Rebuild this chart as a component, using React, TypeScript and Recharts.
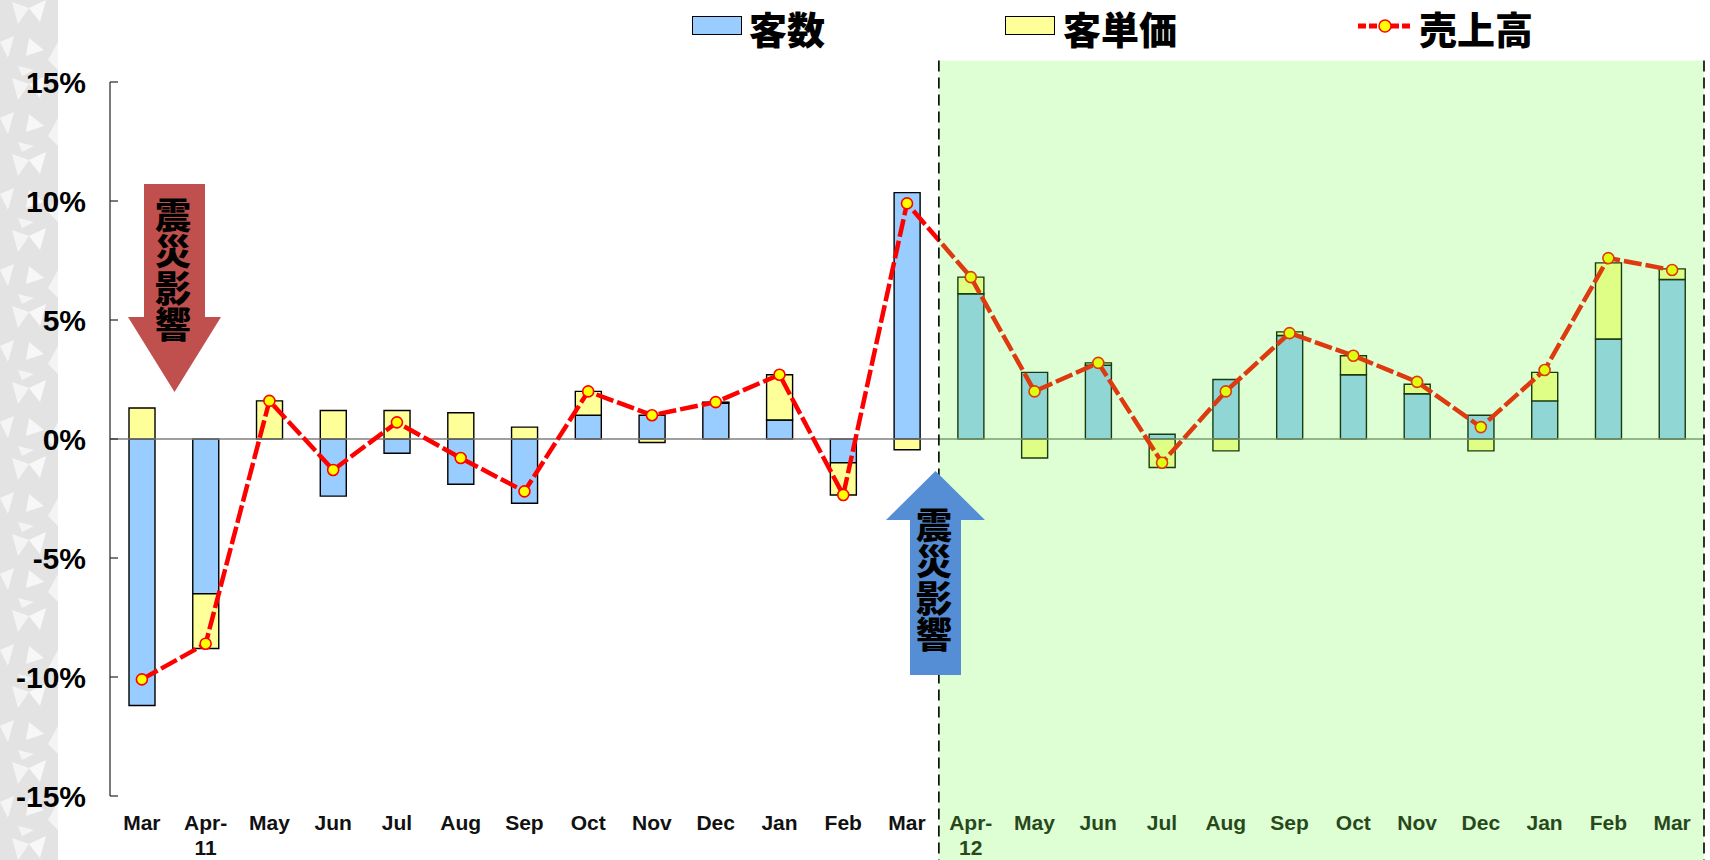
import React from 'react';
import {
  ComposedChart,
  Bar,
  Line,
  XAxis,
  YAxis,
  ReferenceLine,
  ReferenceArea,
} from 'recharts';

// Year-on-year change (%) by month, Mar 2011 .. Mar 2013
const periods = [
  '2011-03', '2011-04', '2011-05', '2011-06', '2011-07', '2011-08', '2011-09',
  '2011-10', '2011-11', '2011-12', '2012-01', '2012-02', '2012-03',
  '2012-04', '2012-05', '2012-06', '2012-07', '2012-08', '2012-09',
  '2012-10', '2012-11', '2012-12', '2013-01', '2013-02', '2013-03',
];
const monthLabels = [
  'Mar', 'Apr-\n11', 'May', 'Jun', 'Jul', 'Aug', 'Sep', 'Oct', 'Nov', 'Dec', 'Jan', 'Feb', 'Mar',
  'Apr-\n12', 'May', 'Jun', 'Jul', 'Aug', 'Sep', 'Oct', 'Nov', 'Dec', 'Jan', 'Feb', 'Mar',
];
// 客数
const customerCount = [
  -11.2, -6.5, 0, -2.4, -0.6, -1.9, -2.7, 1.0, 1.0, 1.5, 0.8, -1.0, 10.35,
  6.1, 2.8, 3.1, 0.2, 2.5, 4.35, 2.7, 1.9, 1.0, 1.6, 4.2, 6.7,
];
// 客単価
const spendPerCustomer = [
  1.3, -2.3, 1.6, 1.2, 1.2, 1.1, 0.5, 1.0, -0.15, 0.05, 1.9, -1.35, -0.45,
  0.7, -0.8, 0.1, -1.2, -0.5, 0.15, 0.8, 0.4, -0.5, 1.2, 3.2, 0.45,
];
// 売上高
const salesGrowth = [
  -10.1, -8.6, 1.6, -1.3, 0.7, -0.8, -2.2, 2.0, 1.0, 1.55, 2.7, -2.35, 9.9,
  6.8, 2.0, 3.2, -1.0, 2.0, 4.45, 3.5, 2.4, 0.5, 2.9, 7.6, 7.1,
];
const yTicks = [-15, -10, -5, 0, 5, 10, 15];

// shaded panel for the second fiscal year (data units, reaches past the plot)
const PANEL_TOP = 15.9;
const PANEL_BOTTOM = -17.7;

const data = periods.map((period, i) => ({
  period,
  customers: customerCount[i],
  spend: spendPerCustomer[i],
  sales: salesGrowth[i],
}));

const NARROW = '"Liberation Sans Narrow", "Liberation Sans", Arial, sans-serif';
const JP = '"Noto Sans CJK JP", "Noto Sans CJK SC", sans-serif';

const XTick = (props: any) => {
  const { x, y, payload } = props;
  const idx = periods.indexOf(payload.value);
  const lines = (monthLabels[idx] ?? '').split('\n');
  return (
    <text
      x={x}
      y={y + 34}
      textAnchor="middle"
      fontFamily={NARROW}
      fontWeight={700}
      fontSize={21}
      fill="#111"
    >
      {lines.map((l, k) => (
        <tspan key={k} x={x} dy={k === 0 ? 0 : 25}>
          {l}
        </tspan>
      ))}
    </text>
  );
};

const YTick = (props: any) => {
  const { x, y, payload } = props;
  return (
    <g>
      <line x1={x} x2={x + 8} y1={y} y2={y} stroke="#333" strokeWidth={1.3} />
      <text
        x={x - 24}
        y={y}
        dy="0.36em"
        textAnchor="end"
        fontFamily={NARROW}
        fontWeight={700}
        fontSize={30}
        fill="#000"
      >
        {payload.value}%
      </text>
    </g>
  );
};

const PanelShape = (props: any) => {
  const { x, y, width, height } = props;
  return (
    <g>
      <rect x={x} y={y} width={width} height={height} fill="rgb(113,252,70)" fillOpacity={0.23} />
      <line x1={x} x2={x} y1={y} y2={y + height} stroke="#000" strokeWidth={1.6} strokeDasharray="11 6" />
      <line
        x1={x + width}
        x2={x + width}
        y1={y}
        y2={y + height}
        stroke="#000"
        strokeWidth={1.6}
        strokeDasharray="11 6"
      />
    </g>
  );
};

// stacked top-to-bottom caption inside an arrow
const VerticalWord = ({ x, top, text }: { x: number; top: number; text: string }) => (
  <text
    x={x}
    y={top}
    writingMode="vertical-rl"
    fontFamily={JP}
    fontWeight={900}
    fontSize={36}
    letterSpacing={0.5}
    fill="#000"
  >
    {text}
  </text>
);

const legendText: React.CSSProperties = {
  position: 'absolute',
  top: 0,
  fontSize: 38,
  fontWeight: 900,
  lineHeight: 'normal',
  whiteSpace: 'nowrap',
};

const Legend = () => (
  <div style={{ position: 'absolute', left: 0, top: 0, width: 1710, height: 56, fontFamily: JP }}>
    <div style={{ position: 'absolute', left: 692, top: 16, width: 50, height: 19, background: '#99CCFF', border: '1.5px solid #000', boxSizing: 'border-box' }} />
    <div style={{ ...legendText, left: 749 }}>客数</div>
    <div style={{ position: 'absolute', left: 1005, top: 16, width: 50, height: 19, background: '#FFFF99', border: '1.5px solid #000', boxSizing: 'border-box' }} />
    <div style={{ ...legendText, left: 1063 }}>客単価</div>
    <svg style={{ position: 'absolute', left: 1356, top: 14 }} width={58} height={24}>
      <line x1={2} x2={56} y1={12} y2={12} stroke="#FF0000" strokeWidth={5} strokeDasharray="8 3" />
      <circle cx={29} cy={12} r={6} fill="#FFFF00" stroke="#FF0000" strokeWidth={1.5} />
    </svg>
    <div style={{ ...legendText, left: 1419 }}>売上高</div>
  </div>
);

const SideStrip = () => (
  <svg style={{ position: 'absolute', left: 0, top: 0 }} width={58} height={860}>
    <defs>
      <pattern id="quilt" width={58} height={76} patternUnits="userSpaceOnUse">
        <rect width={58} height={76} fill="#E3E3E3" />
        <polygon points="29,8 46,0 40,22" fill="#FFFFFF" opacity={0.75} />
        <polygon points="29,8 12,2 18,24" fill="#FFFFFF" opacity={0.6} />
        <polygon points="29,38 44,50 26,56" fill="#FFFFFF" opacity={0.7} />
        <polygon points="0,42 14,36 8,58" fill="#FFFFFF" opacity={0.65} />
        <polygon points="58,42 48,60 58,70" fill="#FFFFFF" opacity={0.6} />
        <polygon points="18,66 34,70 22,76" fill="#F4F4F4" />
      </pattern>
    </defs>
    <rect width={58} height={860} fill="url(#quilt)" />
  </svg>
);

const Annotations = () => (
  <svg
    style={{ position: 'absolute', left: 0, top: 0, pointerEvents: 'none' }}
    width={1710}
    height={860}
  >
    <polygon points="144,184 205,184 205,317 221,317 174.5,392 128,317 144,317" fill="#C0504D" />
    <VerticalWord x={173} top={197} text="震災影響" />
    <polygon points="935.5,471 985,520 961,520 961,675 910,675 910,520 886,520" fill="#558ED5" />
    <VerticalWord x={934} top={507} text="震災影響" />
  </svg>
);

export default function App() {
  return (
    <div style={{ position: 'absolute', left: 0, top: 0, width: 1710, height: 860, background: '#fff', overflow: 'hidden' }}>
      <SideStrip />
      <Legend />
      <div style={{ position: 'absolute', left: 0, top: 0 }}>
        <ComposedChart
          width={1710}
          height={860}
          data={data}
          stackOffset="sign"
          barGap={0}
          margin={{ top: 82, right: 6, bottom: 0, left: 0 }}
        >
          <XAxis
            dataKey="period"
            height={64}
            interval={0}
            axisLine={false}
            tickLine={false}
            tickSize={0}
            tickMargin={0}
            tick={<XTick />}
          />
          <YAxis
            width={110}
            domain={[-15, 15]}
            ticks={yTicks}
            allowDataOverflow
            axisLine={{ stroke: '#333', strokeWidth: 1.3 }}
            tickLine={false}
            tickSize={0}
            tickMargin={0}
            tick={<YTick />}
          />
          <Bar
            dataKey="customers"
            stackId="mix"
            barSize={26}
            fill="#99CCFF"
            stroke="#000"
            strokeWidth={1.4}
            isAnimationActive={false}
          />
          <Bar
            dataKey="spend"
            stackId="mix"
            barSize={26}
            fill="#FFFF99"
            stroke="#000"
            strokeWidth={1.4}
            isAnimationActive={false}
          />
          <ReferenceLine y={0} stroke="#7F7F7F" strokeWidth={1.5} />
          <Line
            dataKey="sales"
            type="linear"
            stroke="#FF0000"
            strokeWidth={4.5}
            strokeDasharray="18 4"
            dot={{ r: 5.5, fill: '#FFFF00', stroke: '#FF0000', strokeWidth: 1.6, strokeDasharray: 'none' }}
            isAnimationActive={false}
          />
          <ReferenceArea
            x1={periods[13]}
            x2={periods[periods.length - 1]}
            y1={PANEL_BOTTOM}
            y2={PANEL_TOP}
            ifOverflow="visible"
            zIndex={2500}
            shape={<PanelShape />}
          />
        </ComposedChart>
      </div>
      <Annotations />
    </div>
  );
}
